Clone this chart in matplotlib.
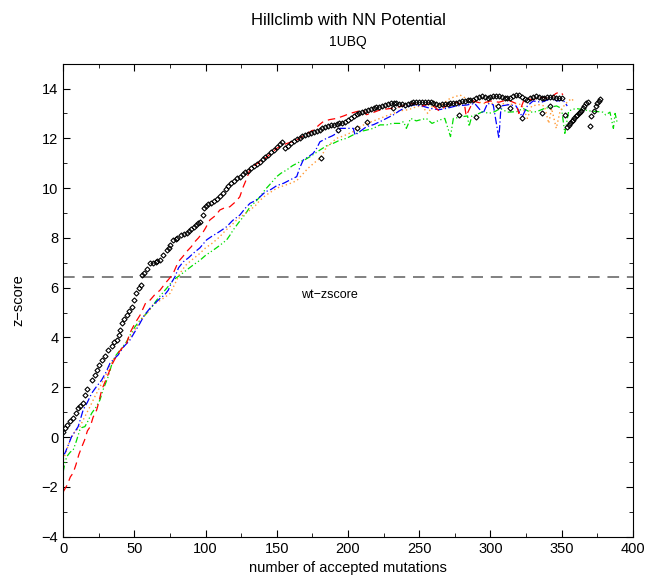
import numpy as np
import matplotlib
matplotlib.use('Agg')
from matplotlib import pyplot as plt
from matplotlib.ticker import MultipleLocator

plt.rcParams['font.family'] = ['Liberation Sans', 'DejaVu Sans']

# best run (black diamonds), early part
black_x_a = [0, 1, 3, 5, 7, 9, 10.5, 12, 14, 15, 17, 20, 22, 23.5, 25, 27, 29, 31.6, 34, 36,
             37.5, 39, 40, 41, 43, 44.5, 46, 48, 50, 51, 53, 54.6, 55.1, 57, 59, 61, 63, 65, 66,
             68, 70, 72.6, 74, 75, 77.3, 79, 80, 83, 85, 86.7, 88, 90, 92, 93, 95, 96, 97.9, 99]
black_y_a = [0.2, 0.35, 0.5, 0.65, 0.75, 0.95, 1.16, 1.25, 1.36, 1.7, 1.95, 2.29, 2.5, 2.7, 2.9,
             3.1, 3.25, 3.5, 3.65, 3.8, 3.9, 4.1, 4.3, 4.57, 4.75, 4.9, 5.05, 5.24, 5.5, 5.79,
             6.0, 6.1, 6.51, 6.6, 6.75, 6.98, 7.0, 7.05, 7.07, 7.1, 7.3, 7.5, 7.6, 7.7, 7.9, 7.95,
             8.0, 8.1, 8.15, 8.2, 8.28, 8.35, 8.45, 8.5, 8.6, 8.65, 8.92, 9.2]
# main band, one reading every 2 mutations from 100 to 350
black_x_b = list(range(100, 352, 2))
black_y_b = [9.28, 9.35, 9.42, 9.48, 9.55, 9.68, 9.82, 9.95, 10.08, 10.2, 10.3, 10.4, 10.46,
             10.55, 10.63, 10.7, 10.8, 10.88, 10.95, 11.05, 11.17, 11.25, 11.35, 11.45, 11.55,
             11.65, 11.78, 11.85, 11.6, 11.7, 11.8, 11.9, 11.98, 12.03, 12.08, 12.12, 12.17,
             12.22, 12.27, 12.3, 12.35, 12.4, 12.45, 12.48, 12.52, 12.55, 12.58, 12.6, 12.62,
             12.66, 12.74, 12.82, 12.9, 12.97, 13.02, 13.07, 13.1, 13.15, 13.18, 13.2, 13.24,
             13.27, 13.3, 13.33, 13.38, 13.43, 13.42, 13.4, 13.38, 13.36, 13.34, 13.37, 13.41,
             13.44, 13.46, 13.47, 13.45, 13.45, 13.47, 13.47, 13.42, 13.38, 13.35, 13.36, 13.38,
             13.38, 13.4, 13.41, 13.42, 13.45, 13.48, 13.5, 13.52, 13.54, 13.55, 13.6, 13.66,
             13.7, 13.66, 13.62, 13.64, 13.68, 13.7, 13.68, 13.65, 13.63, 13.6, 13.62, 13.68,
             13.72, 13.74, 13.65, 13.58, 13.55, 13.62, 13.66, 13.7, 13.67, 13.63, 13.62, 13.65,
             13.67, 13.64, 13.6, 13.6, 13.62]
# tail after the drop
black_x_c = [352.5, 353.7, 355, 356, 357, 358, 359, 360, 361, 362, 363, 364, 365, 366, 367.5,
             368.8, 371, 372.5, 374, 374.7, 376, 377]
black_y_c = [12.94, 12.47, 12.52, 12.6, 12.68, 12.75, 12.82, 12.9, 12.95, 13.0, 13.05, 13.1,
             13.2, 13.3, 13.4, 13.47, 12.9, 13.1, 13.3, 13.4, 13.5, 13.56]
# isolated diamonds lying below the main band
stray_x = [181, 193.2, 206.1, 213.1, 231.8, 278, 290, 305.7, 313.9, 322, 336.2, 342, 370]
stray_y = [11.2, 12.33, 12.4, 12.67, 13.2, 12.94, 12.87, 13.3, 13.2, 12.8, 13.0, 13.3, 12.5]

red_x = [0, 3, 5, 7, 9, 11, 13, 15, 17, 19, 21, 23.5, 25, 27, 30, 32.8, 35, 38.6, 41, 44.5, 47,
         50.4, 54, 58, 61, 64, 68, 72, 75, 77.3, 80.8, 84, 86.7, 90, 92.5, 95, 98.4, 100, 103,
         107, 110, 113, 117, 121, 124, 126.5, 129, 131, 134, 138, 140.5, 145, 150, 155, 160, 164,
         170, 175.6, 180, 182.6, 187, 192, 197, 201.4, 206, 210.8, 213, 216, 222.5, 230, 236.5,
         241, 246, 252, 258, 264, 270, 276, 282, 283, 288, 294, 300, 306, 312, 318, 320, 324,
         330, 336, 342, 346, 349, 351]
red_y = [-2.2, -1.9, -1.6, -1.44, -1.1, -0.7, -0.4, -0.12, 0.25, 0.42, 0.8, 1.09, 1.4, 1.89,
         2.3, 2.7, 3.0, 3.37, 3.55, 3.77, 4.2, 4.57, 4.9, 5.4, 5.5, 5.7, 5.9, 6.2, 6.4, 6.58, 7.04,
         7.25, 7.45, 7.65, 7.85, 8.0, 8.25, 8.4, 8.72, 8.9, 9.12, 9.2, 9.25, 9.45, 9.65, 10.06,
         10.4, 10.73, 10.9, 11.06, 11.13, 11.35, 11.6, 11.75, 11.85, 11.93, 12.15, 12.33, 12.55,
         12.67, 12.75, 12.8, 12.9, 13.0, 13.07, 13.14, 12.95, 13.0, 13.14, 13.2, 13.27, 13.35,
         13.4, 13.3, 13.4, 13.1, 13.35, 13.45, 13.3, 12.9, 13.5, 13.4, 13.5, 13.45, 13.55, 13.4,
         13.0, 13.6, 13.55, 13.65, 13.6, 13.8, 13.87, 13.75]

blue_x = [0, 1.2, 3, 5.9, 8, 10.5, 12, 14, 17, 20, 23, 27, 30, 32.8, 35, 38.6, 42, 46.9, 50,
          53.9, 57, 60.9, 64, 68, 71, 73.8, 76, 78.5, 81, 84.3, 88, 91.3, 96, 100.7, 104, 107.8,
          111, 114.8, 119, 124.1, 128, 131.2, 135, 138.2, 142, 146, 150, 155, 160, 164, 166,
          168.6, 172, 175.6, 178, 180.3, 185, 189, 192, 194.4, 199, 203.7, 205, 209, 213.1, 218,
          222.5, 227, 231.8, 236, 241.2, 245.9, 252, 258, 264, 269, 276, 283.5, 289, 294.9, 298,
          302, 306, 307.5, 313, 318, 322.4, 326, 330, 336, 342.8, 347, 351, 354]
blue_y = [-0.7, -0.65, -0.4, 0.02, 0.2, 0.42, 0.7, 1.09, 1.4, 1.76, 2.0, 2.29, 2.6, 2.96, 3.1,
          3.3, 3.6, 3.9, 4.2, 4.57, 4.9, 5.17, 5.35, 5.57, 5.7, 5.9, 6.2, 6.44, 6.8, 7.04, 7.2,
          7.38, 7.6, 7.92, 8.05, 8.18, 8.3, 8.45, 8.7, 8.92, 9.2, 9.39, 9.5, 9.65, 9.85, 9.95,
          10.1, 10.2, 10.35, 10.46, 10.8, 11.13, 11.25, 11.4, 11.6, 11.86, 12.0, 12.1, 12.2, 12.4,
          12.4, 12.4, 12.13, 12.3, 12.47, 12.55, 12.67, 12.8, 12.94, 13.1, 13.27, 13.34, 13.3,
          13.2, 13.15, 13.2, 13.3, 13.34, 13.4, 13.0, 13.4, 13.35, 12.0, 13.3, 13.35, 13.3, 12.87,
          13.3, 13.5, 13.45, 13.6, 13.5, 13.54, 13.3]

green_x = [0, 1, 2.4, 5, 7, 9, 11.7, 13, 15.2, 17, 20, 23, 25.8, 28, 31.6, 34, 36.3, 40, 44.5,
           47, 50.4, 54, 58.6, 62, 65.6, 70, 73, 77.3, 82, 86.7, 91, 96, 100, 105.4, 110, 114.8,
           117, 119.4, 123, 126.5, 129, 131.2, 135, 138.2, 142, 146, 149.9, 153, 157, 161, 166.3,
           170, 173.3, 177, 180.3, 185, 189.7, 194.4, 199, 204, 208.4, 213, 217.8, 222.5, 227.2,
           231, 236.5, 239, 241, 244, 248, 250.6, 255, 259, 264.7, 268, 272, 274, 280.7, 284, 285,
           287, 289.9, 294.6, 299, 303, 307, 312, 318.4, 323, 328, 332.5, 338, 342, 346.5, 350,
           352.3, 355, 360, 365, 370, 375.9, 379, 381, 384, 386.4, 387.6, 389]
green_y = [-1.39, -1.1, -0.79, -0.6, -0.52, -0.2, 0.29, 0.38, 0.42, 0.6, 0.96, 1.2, 1.49, 1.9,
           2.43, 2.9, 3.23, 3.5, 3.83, 4.1, 4.43, 4.7, 4.97, 5.2, 5.5, 5.8, 6.0, 6.31, 6.5, 6.71,
           6.9, 7.1, 7.3, 7.51, 7.7, 7.92, 8.1, 8.32, 8.6, 8.85, 9.05, 9.25, 9.45, 9.65, 9.95,
           10.2, 10.46, 10.6, 10.73, 10.9, 11.06, 11.15, 11.26, 11.4, 11.53, 11.7, 11.8, 11.93,
           12.0, 12.15, 12.27, 12.33, 12.4, 12.54, 12.54, 12.6, 12.6, 12.67, 12.4, 12.8, 12.7,
           12.74, 12.8, 12.6, 12.74, 12.8, 12.07, 12.8, 12.87, 12.9, 12.47, 12.9, 12.94, 13.07,
           13.0, 13.07, 13.2, 13.05, 13.07, 13.2, 13.05, 13.07, 13.2, 13.25, 13.3, 13.2, 12.2,
           13.1, 13.2, 13.15, 13.1, 13.07, 13.05, 12.94, 13.05, 12.4, 13.0, 12.65]

orange_x = [0, 2, 4.7, 8, 11.7, 15, 18.8, 22, 25.8, 30, 35.1, 40, 44.5, 48, 51.6, 56, 59.7, 63,
            67, 71, 75, 78, 82, 86, 90, 96, 100, 105, 110, 114, 118, 121.8, 126, 131.2, 135, 138,
            142, 146, 150, 155, 160, 164, 168, 172, 176, 180.3, 183, 185, 189, 192, 197, 203.7,
            208, 213.1, 218, 222.5, 227, 231.8, 236, 241.2, 245, 248, 252, 256, 260, 265, 271.5,
            278.7, 283, 288, 292, 296, 300, 304, 308, 313, 318, 322, 326, 329, 334, 338, 341, 343,
            346.3, 349, 353, 357, 359]
orange_y = [-0.92, -0.6, -0.12, 0.2, 0.42, 0.8, 1.22, 1.6, 2.02, 2.5, 3.1, 3.45, 3.77, 4.1,
            4.43, 4.8, 5.04, 5.3, 5.45, 5.6, 5.77, 6.1, 6.58, 6.9, 7.1, 7.38, 7.6, 7.8, 8.05, 8.3,
            8.5, 8.72, 8.9, 9.12, 9.3, 9.5, 9.7, 9.85, 10.0, 10.1, 10.2, 10.3, 10.55, 10.8, 11.0,
            11.2, 11.45, 11.66, 11.85, 12.0, 12.1, 12.27, 12.45, 12.6, 12.7, 12.8, 12.9, 13.0,
            13.1, 13.14, 13.2, 13.27, 13.3, 13.0, 13.35, 13.3, 13.6, 13.74, 13.6, 13.5, 13.45,
            13.4, 13.45, 13.3, 13.4, 13.35, 13.4, 13.35, 12.8, 13.3, 13.35, 13.3, 12.6, 13.2,
            12.4, 13.1, 13.4, 13.6, 13.45]

wt_zscore = 6.43

fig = plt.figure(figsize=(6.45, 5.8), dpi=100)
ax = fig.add_axes([0.098, 0.0747, 0.883, 0.8156])

ax.axhline(wt_zscore, color='#808080', lw=1.4, dashes=(6, 4))
ax.text(187, 5.7, 'wt\u2212zscore', fontsize=9, ha='center', va='center')

ax.plot(green_x, green_y, color='#00dd00', lw=0.9, dashes=(5, 2, 1, 2, 1, 2))
ax.plot(orange_x, orange_y, color='#ff9933', lw=1.0, dashes=(1, 2))
ax.plot(blue_x, blue_y, color='#0000ff', lw=0.9, dashes=(6, 2, 1, 2))
ax.plot(red_x, red_y, color='#ff0000', lw=0.9, dashes=(6, 4))
mk = dict(ls='none', marker='D', color='black', mfc='none', ms=2.6, mew=0.8)
ax.plot(black_x_a, black_y_a, **mk)
ax.plot(black_x_b, black_y_b, **mk)
ax.plot(black_x_c, black_y_c, **mk)
ax.plot(stray_x, stray_y, **mk)

ax.set_xlim(0, 400)
ax.set_ylim(-4, 15)
ax.xaxis.set_major_locator(MultipleLocator(50))
ax.xaxis.set_minor_locator(MultipleLocator(25))
ax.yaxis.set_major_locator(MultipleLocator(2))
ax.yaxis.set_minor_locator(MultipleLocator(1))
ax.tick_params(which='both', direction='in', top=True, right=True, labelsize=10.5)
ax.tick_params(which='major', length=5)
ax.tick_params(which='minor', length=3)
ax.set_yticks(np.arange(-4, 15, 2))
ax.set_yticklabels([str(v).replace('-', '\u2212') for v in range(-4, 15, 2)])

ax.set_xlabel('number of accepted mutations', fontsize=10.5, labelpad=4)
ax.set_ylabel('z\u2212score', fontsize=10.5, labelpad=12)
fig.text(0.54, 0.965, 'Hillclimb with NN Potential', ha='center', va='center', fontsize=12)
fig.text(0.54, 0.928, '1UBQ', ha='center', va='center', fontsize=10)

plt.savefig('out.png', dpi=100)
